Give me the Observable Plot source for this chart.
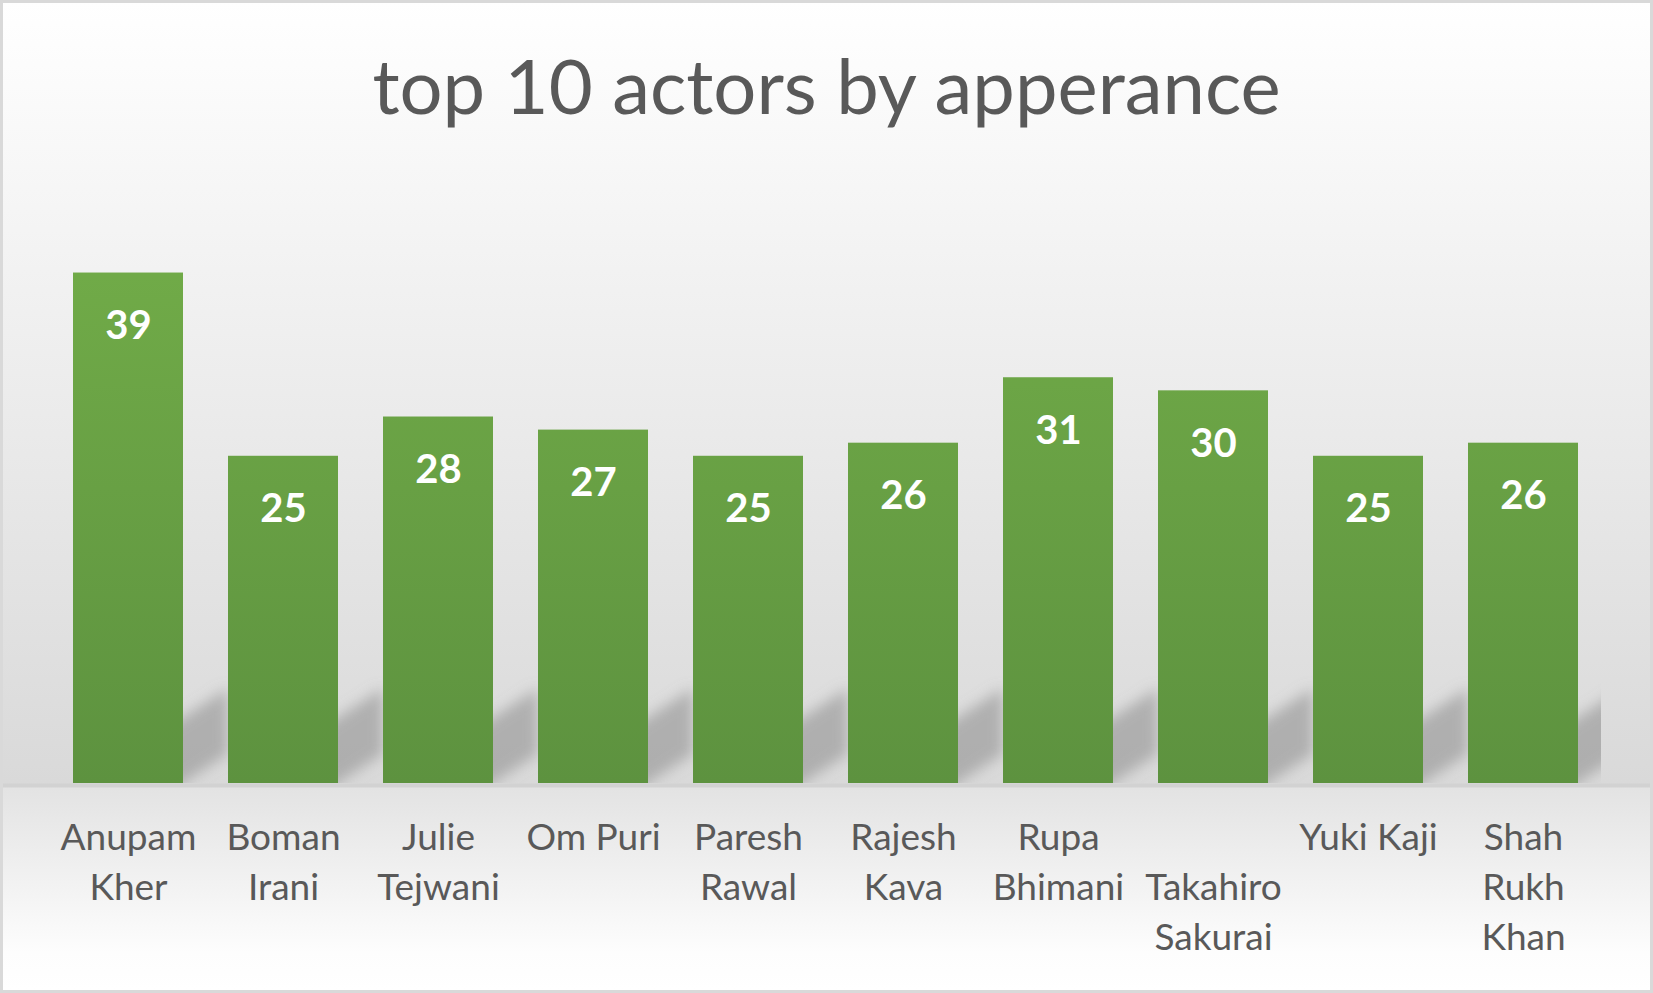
<!DOCTYPE html>
<html><head><meta charset="utf-8">
<script src="https://cdn.jsdelivr.net/npm/d3@7"></script>
<script src="https://cdn.jsdelivr.net/npm/@observablehq/plot@0.6"></script>
<style>
html,body{margin:0;padding:0;background:#fff;}
#chart{position:relative;width:1653px;height:993px;box-sizing:border-box;border:3px solid #d9d9d9;
background:linear-gradient(to bottom,#ffffff 0px,#d9d9d9 780px,#d2d2d2 781px,#d2d2d2 784px,#e3e3e3 785px,#fdfdfd 950px,#ffffff 987px);overflow:hidden;font-family:Lato,sans-serif;}
#title{position:absolute;left:0;right:0;top:44px;text-align:center;font-size:76px;line-height:1;color:#595959;font-weight:400;white-space:nowrap;}
#plot{position:absolute;left:0;top:0;}
</style></head><body>
<div id="chart"><div id="title">top 10 actors by apperance</div><div id="plot"></div></div>
<script>
const actors = ["Anupam Kher","Boman Irani","Julie Tejwani","Om Puri","Paresh Rawal","Rajesh Kava","Rupa Bhimani","Takahiro Sakurai","Yuki Kaji","Shah Rukh Khan"];
const appearances = [39,25,28,27,25,26,31,30,25,26];
const tickLabels = ["Anupam\nKher","Boman\nIrani","Julie\nTejwani","Om Puri","Paresh\nRawal","Rajesh\nKava","Rupa\nBhimani","\u00a0\nTakahiro\nSakurai","Yuki Kaji","Shah\nRukh\nKhan"];
const data = actors.map((name, i) => ({name, value: appearances[i], label: tickLabels[i]}));

const W = 1647, H = 987, MT = 191, MB = 207, ML = 48, MR = 49;
const chart = Plot.plot({
  width: W, height: H,
  marginTop: MT, marginBottom: MB, marginLeft: ML, marginRight: MR,
  x: {domain: actors, paddingInner: 0.29, paddingOuter: 0.145, axis: null},
  y: {domain: [0, 45], axis: null},
  style: {background: "transparent", fontFamily: "Lato, sans-serif", overflow: "visible"},
  marks: [
    Plot.barY(data, {x: "name", y1: 0, y2: 5, dx: 45, fill: "#8a8a8a", fillOpacity: 0.55}),
    Plot.barY(data, {x: "name", y: "value", fill: "url(#barGrad)"}),
    Plot.text(data, {x: "name", y: "value", text: d => String(d.value), lineAnchor: "bottom", dy: 66, fill: "white", fontSize: 40, fontWeight: "bold"}),
    Plot.text(data, {x: "name", y: 0, text: "label", lineAnchor: "top", dy: 31, lineHeight: 1.35, fill: "#595959", fontSize: 37})
  ]
});

const ns = "http://www.w3.org/2000/svg";
const y0 = H - MB;
const defs = document.createElementNS(ns, "defs");
defs.innerHTML = `
  <linearGradient id="barGrad" gradientUnits="userSpaceOnUse" x1="0" y1="${MT}" x2="0" y2="${y0}">
    <stop offset="0" stop-color="#73ae49"/><stop offset="1" stop-color="#5d923f"/>
  </linearGradient>
  <filter id="shadowBlur" x="-30%" y="-30%" width="160%" height="160%"><feGaussianBlur stdDeviation="7"/></filter>
  <clipPath id="plotClip"><rect x="${ML}" y="${MT}" width="${W - ML - MR}" height="${y0 - MT}"/></clipPath>`;
chart.insertBefore(defs, chart.firstChild);
const shadowG = chart.querySelectorAll('g[aria-label="bar"]')[0];
shadowG.querySelectorAll("rect").forEach(r => {
  const x = +r.getAttribute("x"), w = +r.getAttribute("width");
  const px = x + w - 45;
  r.setAttribute("transform", `translate(${px},${y0}) skewY(-33) translate(${-px},${-y0})`);
});
shadowG.setAttribute("filter", "url(#shadowBlur)");
const wrap = document.createElementNS(ns, "g");
wrap.setAttribute("clip-path", "url(#plotClip)");
shadowG.parentNode.insertBefore(wrap, shadowG);
wrap.appendChild(shadowG);
document.getElementById("plot").appendChild(chart);
</script>
</body></html>
